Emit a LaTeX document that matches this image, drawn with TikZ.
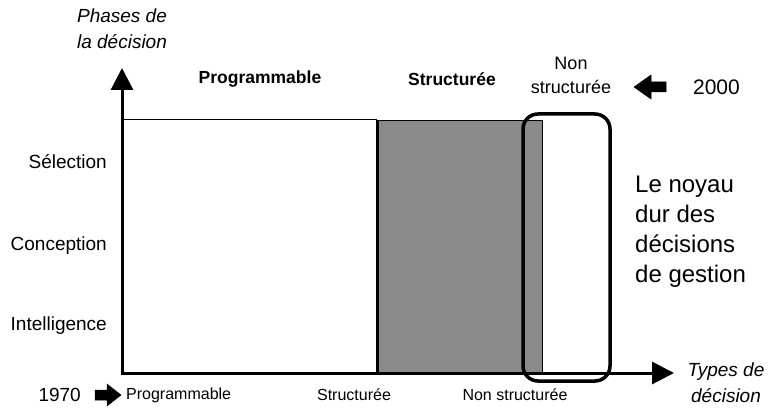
\documentclass[tikz,border=0pt]{standalone}
\usepackage{fontspec}
\setmainfont{Liberation Sans}
\usetikzlibrary{arrows.meta}
\definecolor{zonegray}{gray}{0.54}
\tikzset{
  lbl/.style={inner sep=0pt, font=\fontsize{16}{19}\selectfont},
  phase/.style={inner sep=0pt, anchor=east, font=\fontsize{19}{22}\selectfont},
  bold lbl/.style={inner sep=0pt, font=\fontsize{17.5}{20}\selectfont\bfseries},
  axis name/.style={inner sep=0pt, align=center, font=\fontsize{19}{26}\selectfont\itshape},
  core/.style={inner sep=0pt, align=left, font=\fontsize{24}{30}\selectfont},
  axisline/.style={line width=3pt, -{Triangle[length=22pt,width=22pt]}},
  blockarrow/.style={fill=black, draw=black, line width=0.5pt, line join=miter}
}
\begin{document}
\begin{tikzpicture}[x=1pt,y=-1pt]
\useasboundingbox (0,0) rectangle (768,411);

% origin and axis ends
\coordinate (O) at (122,373);
\coordinate (ytip) at (122,68);
\coordinate (xtip) at (674,373);

% frame of the white zone
\draw[line width=1pt] (122,120) -- (377,120);

% shaded zone of structured decisions
\fill[zonegray] (377,120) rectangle (542,373);
\draw[line width=0.6pt] (377,120) -- (542,120) -- (542,373);
\draw[line width=3pt] (377,120) -- (377,373);

% axes
\draw[axisline] (O) -- (ytip);
\draw[axisline] ([xshift=-1.5pt]O) -- (xtip);

% the hard core of management decisions
\draw[line width=3.5pt, rounded corners=15pt] (523,114) rectangle (610,381);

% axis names
\node[axis name] (yname) at (122,29) {Phases de\\la décision};
\node[axis name] (xname) at (726,383) {Types de\\décision};

% column headings
\node[bold lbl] (hprog) at (260,79) {Programmable};
\node[bold lbl] (hstruct) at (452,79) {Structurée};
\node[lbl, align=center, font=\fontsize{18}{24}\selectfont] (hnon) at (571,75) {Non\\structurée};

% phases on the vertical axis
\node[phase] (sel) at (107,162) {Sélection};
\node[phase] (conc) at (107,246) {Conception};
\node[phase] (intel) at (107,326) {Intelligence};

% types on the horizontal axis
\node[lbl, anchor=west] (tprog) at (126,395) {Programmable};
\node[lbl] (tstruct) at (354,395) {Structurée};
\node[lbl] (tnon) at (515,395) {Non structurée};

% dates with their block arrows
\node[phase, anchor=east] (y1970) at (81,395) {1970};
\fill[blockarrow] (95,390) -- (107,390) -- (107,384) -- (121,395) -- (107,406) -- (107,400) -- (95,400) -- cycle;
\node[inner sep=0pt, anchor=east, font=\fontsize{21}{24}\selectfont] (y2000) at (740,87) {2000};
\fill[blockarrow] (666,82) -- (651,82) -- (651,75) -- (634,87) -- (651,99) -- (651,92) -- (666,92) -- cycle;

% core label
\node[core, anchor=north west] (noyau) at (635,176) {Le noyau\\dur des\\décisions\\de gestion};
\end{tikzpicture}
\end{document}
